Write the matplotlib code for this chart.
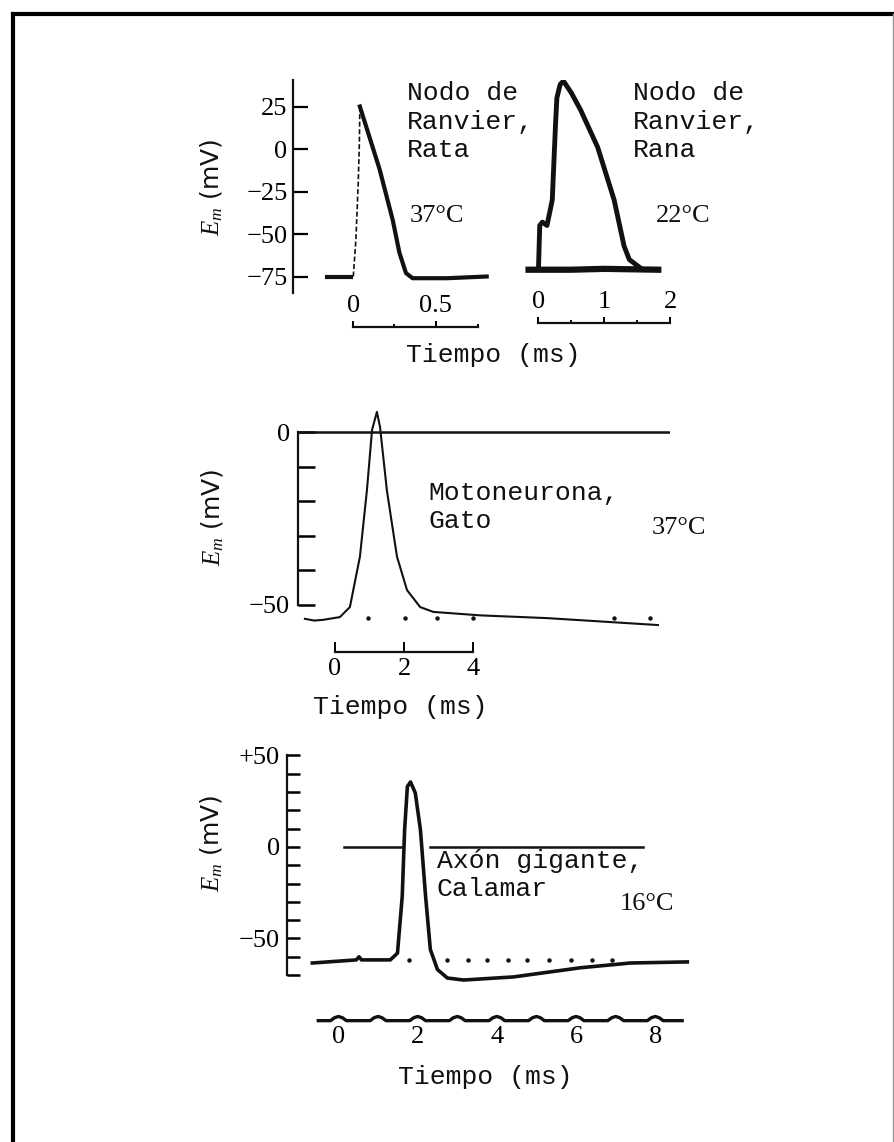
import matplotlib.pyplot as plt
from matplotlib.lines import Line2D

# ---- data (time in ms, membrane potential in mV) ----
# Nodo de Ranvier, rata, 37 C
rat_t = [-0.17, 0.0, 0.016, 0.03, 0.037, 0.04, 0.16, 0.24, 0.28, 0.32, 0.36, 0.57, 0.81]
rat_v = [-75, -75, -53, -20, 4, 25, -12, -42, -61, -73, -76, -76, -75]

# Nodo de Ranvier, rana, 22 C
frog_base_t = [-0.15, 0.5, 1.0, 1.82]
frog_base_v = [-71, -71, -70.5, -71]
frog_t = [0.0, 0.02, 0.06, 0.13, 0.21, 0.26, 0.28, 0.33, 0.38, 0.5, 0.64, 0.9, 1.15, 1.3, 1.38, 1.55]
frog_v = [-71, -45, -43, -45, -30, 15, 30, 38, 40, 33, 23, 1, -30, -57, -65, -70]

# Motoneurona, gato, 37 C
cat_t = [-0.87, -0.6, -0.35, 0.14, 0.43, 0.72, 0.92, 1.07, 1.21, 1.3, 1.5, 1.79, 2.08, 2.46, 2.84, 4.2, 6.14, 8.06, 9.33]
cat_v = [-54, -54.5, -54.3, -53.5, -50.6, -36, -17, 0.6, 5.8, 1.5, -17, -36, -45.7, -50.6, -52, -53, -53.8, -55, -55.8]
cat_dots = [0.96, 2.03, 2.96, 4.0, 8.06, 9.1]

# Axon gigante, calamar, 16 C
sq_t = [-0.66, 0.45, 0.52, 0.58, 1.31, 1.49, 1.61, 1.67, 1.74, 1.82, 1.94, 2.07, 2.2, 2.32, 2.5, 2.75, 3.16, 4.42, 6.11, 7.37, 8.81]
sq_v = [-63.4, -61.7, -60, -61.7, -61.7, -58, -27, 9.3, 33, 35.5, 29.5, 9.3, -27, -56, -67, -71.6, -72.7, -71, -66, -63.4, -62.8]
sq_dots = [1.77, 2.75, 3.26, 3.76, 4.27, 4.77, 5.32, 5.87, 6.41, 6.92]
sq_zero = [(0.13, 1.57), (2.32, 7.7)]
sq_marks = [0, 1, 2, 3, 4, 5, 6, 7, 8]

W, H = 894, 1142
INK = '#111111'
SERIF = 'Liberation Serif'
MONO = 'Liberation Mono'
NUM = 19  # size of the numerals
plt.rcParams['mathtext.fontset'] = 'custom'
plt.rcParams['mathtext.rm'] = SERIF
plt.rcParams['mathtext.it'] = SERIF + ':italic'

fig = plt.figure(figsize=(W / 100, H / 100), dpi=100)
fig.patch.set_facecolor('white')


def add_ax(x0, x1, y0, y1):
    ax = fig.add_axes([x0 / W, 1 - y1 / H, (x1 - x0) / W, (y1 - y0) / H])
    ax.set_facecolor('none')
    for s in ax.spines.values():
        s.set_visible(False)
        s.set_linewidth(1.6)
        s.set_color(INK)
    ax.set_xticks([])
    ax.set_yticks([])
    return ax


def ftext(x, y, s, **kw):
    fig.text(x / W, 1 - y / H, s, color=INK, **kw)


# frame of the scanned page
fig.add_artist(Line2D([13 / W, 13 / W], [0, 1 - 14 / H], lw=3, color='k', transform=fig.transFigure))
fig.add_artist(Line2D([13 / W, 1], [1 - 14 / H, 1 - 14 / H], lw=3, color='k', transform=fig.transFigure))
fig.add_artist(Line2D([893 / W, 893 / W], [0, 1 - 14 / H], lw=1, color='0.6', transform=fig.transFigure))

# ---- top: rat node ----
ax1 = add_ax(293, 490, 80, 293)
ax1.set_xlim(-0.366, 0.83)
ax1.set_ylim(-84.7, 40.6)
ax1.plot(rat_t[:2], rat_v[:2], color=INK, lw=3, solid_capstyle='butt')
ax1.plot(rat_t[1:6], rat_v[1:6], color=INK, lw=1.2, ls=(0, (3, 1.5)))
ax1.plot(rat_t[5:], rat_v[5:], color=INK, lw=3)
ax1.spines['left'].set_visible(True)
ax1.set_yticks([25, 0, -25, -50, -75], ['25', '0', '\u221225', '\u221250', '\u221275'])
ax1.tick_params(axis='y', direction='in', length=11, width=1.6, pad=4, labelsize=NUM, labelfontfamily=SERIF)
ax1.spines['top'].set_visible(True)
ax1.spines['top'].set_position(('data', -104.7))
ax1.spines['top'].set_bounds(0, 0.755)
ax1.xaxis.set_ticks_position('top')
ax1.set_xticks([0, 0.5], ['0', '0.5'])
ax1.set_xticks([0.25, 0.755], minor=True)
ax1.tick_params(axis='x', which='both', direction='out', top=True, bottom=False,
                labeltop=True, labelbottom=False, width=1.4, labelsize=NUM, labelfontfamily=SERIF)
ax1.tick_params(axis='x', which='major', length=4, pad=3)
ax1.tick_params(axis='x', which='minor', length=2.5)

# ---- top: frog node ----
ax2 = add_ax(520, 680, 80, 293)
ax2.set_xlim(-0.28, 2.15)
ax2.set_ylim(-84.7, 40.6)
ax2.plot(frog_base_t, frog_base_v, color=INK, lw=4.5)
ax2.plot(frog_t, frog_v, color=INK, lw=3.5)
ax2.spines['top'].set_visible(True)
ax2.spines['top'].set_position(('data', -102.4))
ax2.spines['top'].set_bounds(0, 2)
ax2.xaxis.set_ticks_position('top')
ax2.set_xticks([0, 1, 2], ['0', '1', '2'])
ax2.set_xticks([0.5, 1.5], minor=True)
ax2.tick_params(axis='x', which='both', direction='out', top=True, bottom=False,
                labeltop=True, labelbottom=False, width=1.4, labelsize=NUM, labelfontfamily=SERIF)
ax2.tick_params(axis='x', which='major', length=4, pad=3)
ax2.tick_params(axis='x', which='minor', length=2.5)

ftext(212, 187, '$E_m$ (mV)', rotation=90, ha='center', va='center', fontsize=18)
for i, line in enumerate(['Nodo de', 'Ranvier,', 'Rata']):
    ftext(407, 100 + 28.5 * i, line, fontfamily=MONO, fontsize=19, va='baseline')
for i, line in enumerate(['Nodo de', 'Ranvier,', 'Rana']):
    ftext(633, 100 + 28.5 * i, line, fontfamily=MONO, fontsize=19, va='baseline')
ftext(410, 222, '37\u00b0C', fontfamily=SERIF, fontsize=19, va='baseline')
ftext(656, 222, '22\u00b0C', fontfamily=SERIF, fontsize=19, va='baseline')
ftext(493, 355, 'Tiempo (ms)', fontfamily=MONO, fontsize=19, ha='center', va='center')

# ---- middle: cat motoneuron ----
ax3 = add_ax(298, 670, 400, 660)
ax3.set_xlim(-1.07, 9.68)
ax3.set_ylim(-65.9, 9.25)
ax3.axhline(0, color=INK, lw=1.8)
ax3.plot(cat_t, cat_v, color=INK, lw=1.5)
ax3.plot(cat_dots, [-53.8] * len(cat_dots), ls='none', marker='o', ms=2.2, color=INK)
ax3.spines['left'].set_visible(True)
ax3.spines['left'].set_bounds(-50, 0)
ax3.set_yticks([0, -10, -20, -30, -40, -50], ['0', '', '', '', '', '\u221250'])
ax3.tick_params(axis='y', direction='in', length=12, width=1.8, pad=6, labelsize=NUM, labelfontfamily=SERIF)
ax3.spines['bottom'].set_visible(True)
ax3.spines['bottom'].set_position(('data', -63.6))
ax3.spines['bottom'].set_bounds(0, 4)
ax3.set_xticks([0, 2, 4], ['0', '2', '4'])
ax3.tick_params(axis='x', direction='in', length=7, width=1.4, pad=4, labelsize=NUM, labelfontfamily=SERIF)

ftext(213, 517, '$E_m$ (mV)', rotation=90, ha='center', va='center', fontsize=18)
ftext(428, 500, 'Motoneurona,', fontfamily=MONO, fontsize=19, va='baseline')
ftext(428, 528, 'Gato', fontfamily=MONO, fontsize=19, va='baseline')
ftext(652, 534, '37\u00b0C', fontfamily=SERIF, fontsize=19, va='baseline')
ftext(400, 707, 'Tiempo (ms)', fontfamily=MONO, fontsize=19, ha='center', va='center')

# ---- bottom: squid giant axon ----
ax4 = add_ax(287, 700, 745, 1030)
ax4.set_xlim(-1.3, 9.13)
ax4.set_ylim(-100, 55.7)
for a, b in sq_zero:
    ax4.plot([a, b], [0, 0], color=INK, lw=1.8)
ax4.plot(sq_t, sq_v, color=INK, lw=2.6)
ax4.plot(sq_dots, [-61.7] * len(sq_dots), ls='none', marker='o', ms=2.2, color=INK)

# timing trace with a small bump every millisecond
base = -94.9
mx, my = [-0.51], [base]
for m in sq_marks:
    mx += [m - 0.2, m - 0.1, m, m + 0.1, m + 0.2]
    my += [base, base + 1.6, base + 2.3, base + 1.6, base]
mx.append(8.68)
my.append(base)
ax4.plot(mx, my, color=INK, lw=2.4)

ax4.spines['left'].set_visible(True)
ax4.spines['left'].set_bounds(-70, 50)
ax4.set_yticks([50, 0, -50], ['+50', '0', '\u221250'])
ax4.set_yticks([40, 30, 20, 10, -10, -20, -30, -40, -60, -70], minor=True)
ax4.tick_params(axis='y', which='both', direction='in', length=9.5, width=1.8, pad=5,
                labelsize=NUM, labelfontfamily=SERIF)
ax4.spines['bottom'].set_position(('data', base))
ax4.set_xticks([0, 2, 4, 6, 8], ['0', '2', '4', '6', '8'])
ax4.tick_params(axis='x', length=0, pad=4, labelsize=NUM, labelfontfamily=SERIF)

ftext(212, 843, '$E_m$ (mV)', rotation=90, ha='center', va='center', fontsize=18)
ftext(437, 868, 'Ax\u00f3n gigante,', fontfamily=MONO, fontsize=19, va='baseline')
ftext(437, 896, 'Calamar', fontfamily=MONO, fontsize=19, va='baseline')
ftext(620, 910, '16\u00b0C', fontfamily=SERIF, fontsize=19, va='baseline')
ftext(485, 1077, 'Tiempo (ms)', fontfamily=MONO, fontsize=19, ha='center', va='center')

fig.savefig('out.png', dpi=100, facecolor='white')
